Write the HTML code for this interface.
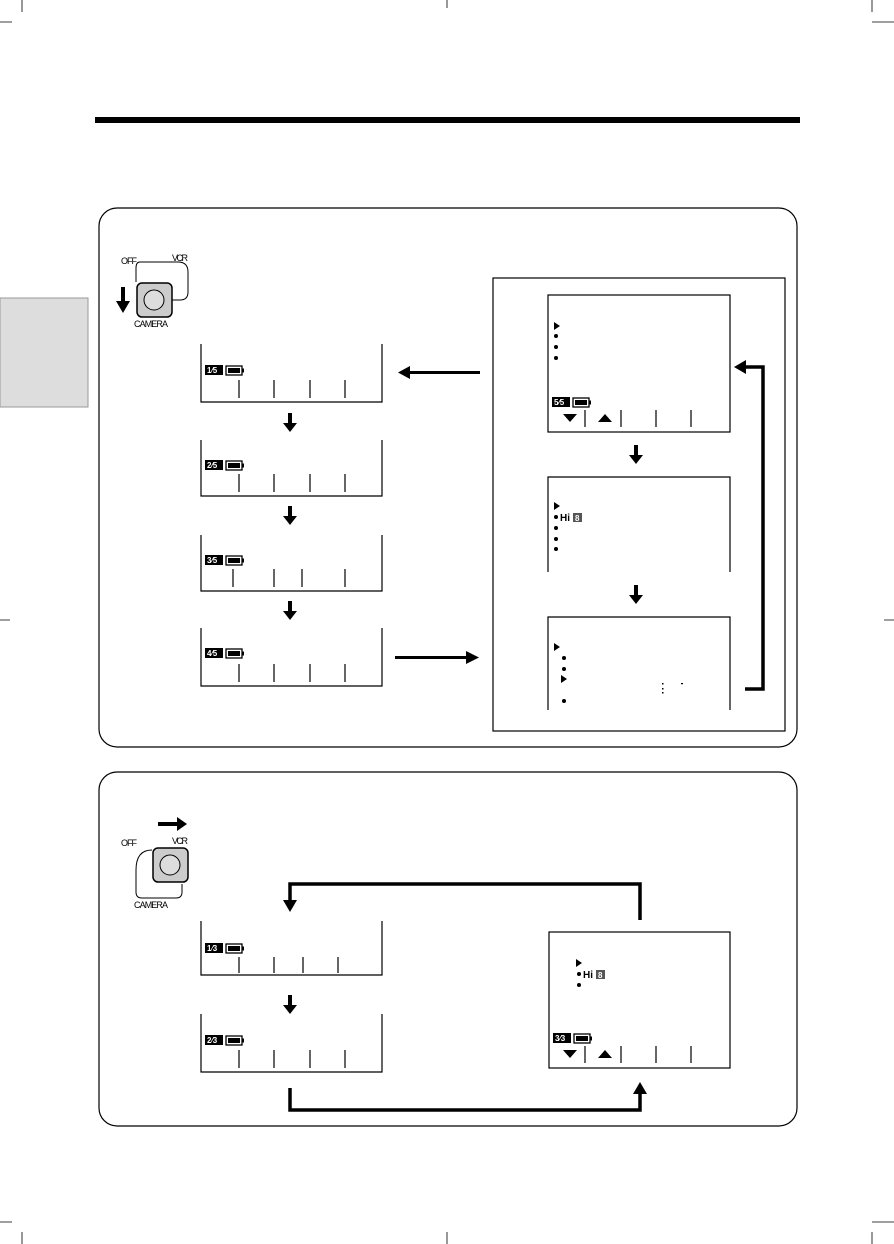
<!DOCTYPE html>
<html><head><meta charset="utf-8"><style>
body{margin:0;background:#fff}
svg{display:block;font-family:"Liberation Sans",sans-serif}
</style></head><body>
<svg width="894" height="1244" viewBox="0 0 894 1244" xmlns="http://www.w3.org/2000/svg">
<defs>
<g id="down"><rect x="-2" y="0" width="4" height="11" fill="#000"/><path d="M-7,10 L7,10 L0,19 Z" fill="#000"/></g>
<g id="bat"><rect x="0" y="0" width="16" height="9" fill="#fff" stroke="#000" stroke-width="1.3"/><rect x="2" y="2" width="12" height="5" fill="#000"/><rect x="16" y="2.5" width="2" height="4" fill="#000"/></g>
</defs>
<g stroke="#000" stroke-width="0.8" fill="none">
<path d="M447,0 V8 M447,1232 V1244 M0,620 H10 M884,620 H894 M0,22 H12 M22,0 V12 M872,22 H894 M872,0 V12 M0,1222 H12 M22,1232 V1244 M872,1222 H894 M872,1232 V1244"/>
</g>
<rect x="95" y="117" width="705" height="6" fill="#000"/>
<rect x="0" y="298" width="88" height="109" fill="#ddd" stroke="#999" stroke-width="1"/>

<!-- Panel 1 -->
<rect x="99" y="208" width="698" height="539" rx="18" fill="none" stroke="#000" stroke-width="1.2"/>
<g fill="none" stroke="#000">
<path d="M140,262 H178 Q188,262 188,272 V292 Q188,300 180,300 H172" stroke-width="1"/>
<path d="M140,262 Q136,262 136,268 V282" stroke-width="1"/>
<rect x="137" y="283" width="35" height="34" rx="5" fill="#ccc" stroke-width="1.5"/>
<circle cx="154" cy="300" r="10" fill="#ddd" stroke-width="1"/>
</g>
<g font-size="9" transform="scale(1,1)">
<text x="121" y="264" textLength="16">OFF</text><text x="172" y="261" textLength="16">VCR</text>
<text x="134" y="327" textLength="34">CAMERA</text>
</g>
<rect x="121" y="287" width="4" height="16" fill="#000"/><path d="M116,301 L130,301 L123,313 Z" fill="#000"/>

<g fill="none" stroke="#000" stroke-width="1.2">
<path d="M201,344 V402 H382 V344"/>
<path d="M201,440 V496 H382 V440"/>
<path d="M201,535 V591 H382 V535"/>
<path d="M201,628 V686 H382 V628"/>
<path d="M239,380 V398 M274,380 V398 M310,380 V398 M345,380 V398"/>
<path d="M239,474 V492 M274,474 V492 M310,474 V492 M345,474 V492"/>
<path d="M233,569 V587 M274,569 V587 M302,569 V587 M345,569 V587"/>
<path d="M239,664 V682 M274,664 V682 M310,664 V682 M345,664 V682"/>
</g>
<g font-size="8" font-weight="bold">
<rect x="205" y="365" width="18" height="10" fill="#000"/><text x="207" y="373" fill="#fff">1⁄5</text><use href="#bat" x="226" y="366"/>
<rect x="205" y="460" width="18" height="10" fill="#000"/><text x="207" y="468" fill="#fff">2⁄5</text><use href="#bat" x="226" y="461"/>
<rect x="205" y="555" width="18" height="10" fill="#000"/><text x="207" y="563" fill="#fff">3⁄5</text><use href="#bat" x="226" y="556"/>
<rect x="205" y="648" width="18" height="10" fill="#000"/><text x="207" y="656" fill="#fff">4⁄5</text><use href="#bat" x="226" y="649"/>
</g>
<use href="#down" x="290" y="413"/><use href="#down" x="290" y="506"/><use href="#down" x="290" y="601"/>
<rect x="408" y="371" width="72" height="3" fill="#000"/><path d="M398,372.5 L410,366 L410,379 Z" fill="#000"/>
<rect x="395" y="656" width="72" height="3" fill="#000"/><path d="M479,657.5 L466,651 L466,664 Z" fill="#000"/>

<rect x="493" y="278" width="292" height="453" fill="none" stroke="#000" stroke-width="1.2"/>
<g fill="none" stroke="#000" stroke-width="1.2">
<rect x="548" y="295" width="182" height="137"/>
<path d="M548,572 V477 H730 V572"/>
<path d="M548,710 V617 H730 V710"/>
<path d="M585,410 V427 M621,410 V427 M656,410 V427 M691,410 V427"/>
</g>
<g fill="#000">
<path d="M554,322 L560,326 L554,330 Z"/><circle cx="556" cy="336" r="2"/><circle cx="556" cy="347" r="2"/><circle cx="556" cy="358" r="2"/>
<path d="M563,414 L577,414 L570,422 Z"/><path d="M598,422 L612,422 L605,414 Z"/>
<path d="M554,502 L560,506 L554,510 Z"/><circle cx="556" cy="517" r="2"/><circle cx="556" cy="528" r="2"/><circle cx="556" cy="539" r="2"/><circle cx="556" cy="549" r="2"/>
<path d="M554,643 L560,647 L554,651 Z"/><circle cx="564" cy="658" r="2"/><circle cx="564" cy="669" r="2"/><path d="M561,675 L567,679 L561,683 Z"/><circle cx="564" cy="701" r="2"/>
<rect x="662" y="683" width="1.5" height="1.5"/><rect x="662" y="688" width="1.5" height="1.5"/><rect x="662" y="692" width="1.5" height="1.5"/><rect x="681" y="683" width="2" height="1.2"/>
</g>
<text x="560" y="521" font-size="10" font-weight="bold">Hi</text><rect x="573" y="513" width="9" height="9" fill="#555"/><text x="575" y="521" font-size="8" fill="#fff" font-weight="bold">8</text>
<rect x="552" y="397" width="18" height="10" fill="#000"/><text x="554" y="405" fill="#fff" font-size="8" font-weight="bold">5⁄5</text><use href="#bat" x="573" y="398"/>
<use href="#down" x="636" y="445"/><use href="#down" x="636" y="585"/>
<path d="M745,689 H763 V367 H743" fill="none" stroke="#000" stroke-width="3.5"/><path d="M734,367 L746,360 L746,374 Z" fill="#000"/>

<!-- Panel 2 -->
<rect x="99" y="772" width="698" height="354" rx="18" fill="none" stroke="#000" stroke-width="1.2"/>
<g fill="none" stroke="#000">
<path d="M136,870 V892 Q136,898 142,898 H176 Q182,898 182,892 V884" stroke-width="1"/>
<rect x="153" y="848" width="35" height="34" rx="5" fill="#ccc" stroke-width="1.5"/>
<circle cx="170" cy="865" r="10" fill="#ddd" stroke-width="1"/>
<path d="M136,870 Q136,850 152,850" stroke-width="1"/>
</g>
<text x="121" y="846" font-size="9" textLength="16">OFF</text><text x="172" y="844" font-size="9" textLength="16">VCR</text>
<text x="134" y="908" font-size="9" textLength="34">CAMERA</text>
<rect x="158" y="822" width="20" height="4" fill="#000"/><path d="M187,824 L177,817 L177,831 Z" fill="#000"/>

<g fill="none" stroke="#000" stroke-width="1.2">
<path d="M201,921 V975 H382 V921"/>
<path d="M201,1014 V1072 H382 V1014"/>
<path d="M239,957 V973 M274,957 V973 M303,957 V973 M338,957 V973"/>
<path d="M239,1050 V1068 M274,1050 V1068 M310,1050 V1068 M345,1050 V1068"/>
<rect x="549" y="932" width="181" height="136"/>
<path d="M585,1046 V1063 M621,1046 V1063 M656,1046 V1063 M691,1046 V1063"/>
</g>
<g font-size="8" font-weight="bold">
<rect x="205" y="943" width="18" height="10" fill="#000"/><text x="207" y="951" fill="#fff">1⁄3</text><use href="#bat" x="226" y="944"/>
<rect x="205" y="1035" width="18" height="10" fill="#000"/><text x="207" y="1043" fill="#fff">2⁄3</text><use href="#bat" x="226" y="1036"/>
<rect x="553" y="1033" width="18" height="10" fill="#000"/><text x="555" y="1041" fill="#fff">3⁄3</text><use href="#bat" x="574" y="1034"/>
</g>
<g fill="#000">
<path d="M576,959 L582,963 L576,967 Z"/><circle cx="579" cy="974" r="2"/><circle cx="579" cy="985" r="2"/>
<path d="M563,1050 L577,1050 L570,1058 Z"/><path d="M598,1058 L612,1058 L605,1050 Z"/>
</g>
<text x="583" y="978" font-size="10" font-weight="bold">Hi</text><rect x="596" y="970" width="9" height="9" fill="#555"/><text x="598" y="978" font-size="8" fill="#fff" font-weight="bold">8</text>
<use href="#down" x="290" y="995"/>
<path d="M640,920 V884 H290 V902" fill="none" stroke="#000" stroke-width="3.5"/><path d="M283,900 L297,900 L290,912 Z" fill="#000"/>
<path d="M290,1088 V1110 H640 V1092" fill="none" stroke="#000" stroke-width="3.5"/><path d="M633,1094 L647,1094 L640,1082 Z" fill="#000"/>
</svg>
</body></html>
